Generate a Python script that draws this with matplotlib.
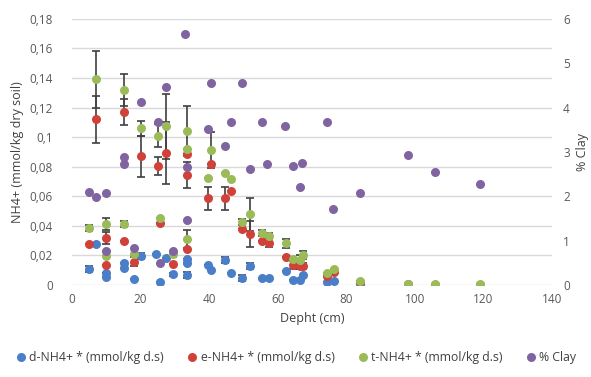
import matplotlib.pyplot as plt
from matplotlib.ticker import FuncFormatter, MultipleLocator
from matplotlib.lines import Line2D

plt.rcParams['font.family'] = ['Open Sans', 'DejaVu Sans']

# d-NH4+ (blue)
d_depth = [5, 7, 10, 10, 15, 15, 18, 20, 24.5, 25.5, 27.5, 29.5, 33.5, 33.5, 33.5, 39.5, 40.5,
           44.5, 46.5, 49.5, 52, 55.5, 57.5, 62.5, 64.5, 66.5, 67.5, 74.5, 76.5, 84, 98, 106, 119]
d_val = [0.0106, 0.0275, 0.0079, 0.0056, 0.015, 0.0117, 0.0038, 0.0196, 0.0207, 0.0022, 0.0185,
         0.0072, 0.0174, 0.0151, 0.0065, 0.0135, 0.0101, 0.0169, 0.0079, 0.0045, 0.0131, 0.0049,
         0.0045, 0.0095, 0.0034, 0.0034, 0.0068, 0.002, 0.0026, 0.0005, 0.0003, 0.0002, 0.0002]
d_err = [0.002, 0, 0, 0, 0, 0, 0, 0.002, 0, 0, 0, 0.001, 0, 0, 0.002, 0, 0,
         0.002, 0, 0.002, 0.002, 0, 0, 0, 0, 0, 0, 0, 0, 0, 0, 0, 0]

# e-NH4+ (red)
e_depth = [5, 7, 10, 10, 15, 15, 18, 20, 25, 25.5, 27.5, 29.5, 33.5, 33.5, 33.5, 39.5, 40.5,
           44.5, 46.5, 49.5, 52, 55.5, 57.5, 62.5, 64.5, 66.5, 67.5, 74.5, 76.5, 84, 98, 106, 119]
e_val = [0.0277, 0.112, 0.032, 0.0135, 0.117, 0.030, 0.0158, 0.087, 0.0806, 0.042, 0.089,
         0.014, 0.0885, 0.0743, 0.0245, 0.0586, 0.0815, 0.0586, 0.0637, 0.0378, 0.0345, 0.030,
         0.0286, 0.0187, 0.0135, 0.0128, 0.013, 0.006, 0.009, 0.002, 0.0005, 0.0003, 0.0003]
e_err = [0, 0.016, 0.004, 0, 0.009, 0, 0.003, 0.014, 0.006, 0, 0.021, 0, 0, 0.0086, 0, 0.008, 0,
         0.008, 0, 0, 0.009, 0, 0.003, 0, 0.003, 0.002, 0.002, 0, 0, 0, 0, 0, 0]

# t-NH4+ (green)
t_depth = [5, 7, 10, 10, 15, 15, 18, 20, 25, 25.5, 27.5, 29.5, 33.5, 33.5, 33.5, 39.5, 40.5,
           44.5, 46.5, 49.5, 52, 55.5, 57.5, 62.5, 64.5, 66.5, 67.5, 74.5, 76.5, 84, 98, 106, 119]
t_val = [0.0383, 0.139, 0.041, 0.0196, 0.132, 0.041, 0.021, 0.106, 0.101, 0.0455, 0.1074,
         0.021, 0.104, 0.0917, 0.031, 0.0725, 0.0912, 0.0755, 0.0716, 0.0424, 0.0478, 0.0354,
         0.0331, 0.0282, 0.0174, 0.017, 0.0203, 0.0079, 0.0108, 0.0027, 0.0007, 0.0005, 0.0005]
t_err = [0.002, 0.019, 0.004, 0, 0.011, 0.002, 0, 0.005, 0.008, 0, 0.022, 0.002, 0.017, 0, 0.006,
         0, 0.012, 0, 0, 0.002, 0.011, 0.002, 0.002, 0.003, 0, 0.003, 0.003, 0, 0, 0, 0, 0, 0]

# % Clay (purple, right axis)
clay_depth = [5, 7, 10, 10, 15, 15, 18, 20, 25, 25.5, 27.5, 29.5, 33, 33.5, 33.5, 39.5, 40.5,
              44.5, 46.5, 49.5, 52, 55.5, 57, 62, 64.5, 66.5, 67, 74.5, 76, 84, 98, 106, 119]
clay_val = [2.09, 1.98, 2.07, 0.77, 2.88, 2.72, 0.83, 4.12, 3.67, 0.49, 4.46, 0.77, 5.65, 2.67,
            1.47, 3.52, 4.55, 3.14, 3.67, 4.56, 2.62, 3.67, 2.72, 3.59, 2.68, 2.22, 2.76, 3.68,
            1.71, 2.07, 2.92, 2.54, 2.28]

labels = ['d-NH4+ * (mmol/kg d.s)', 'e-NH4+ * (mmol/kg d.s)', 't-NH4+ * (mmol/kg d.s)', '% Clay']
colors = ['#4a7ec8', '#d0413a', '#9bbb59', '#8064a2']
ecol = '#404040'
tcol = '#595959'

fig, ax = plt.subplots(figsize=(5.91, 3.77), dpi=100)
fig.subplots_adjust(left=0.122, right=0.934, top=0.95, bottom=0.244)

for x, y, err, c in [(d_depth, d_val, d_err, colors[0]),
                     (e_depth, e_val, e_err, colors[1]),
                     (t_depth, t_val, t_err, colors[2])]:
    ax.errorbar(x, y, yerr=err, fmt='o', ms=6.5, color=c, ecolor=ecol, elinewidth=1.2,
                capsize=3, capthick=1.2, mec='none')

ax2 = ax.twinx()
ax2.plot(clay_depth, clay_val, 'o', ms=6.5, color=colors[3], mec='none')

ax.set_xlim(0, 140)
ax.set_ylim(0, 0.18)
ax2.set_ylim(0, 6)
ax.xaxis.set_major_locator(MultipleLocator(20))
ax.yaxis.set_major_locator(MultipleLocator(0.02))
ax2.yaxis.set_major_locator(MultipleLocator(1))

fmt = FuncFormatter(lambda v, p: ('%g' % round(v, 3)).replace('.', ','))
ax.yaxis.set_major_formatter(fmt)

ax.grid(axis='y', color='#d9d9d9', lw=1)
ax.set_axisbelow(True)
for a in (ax, ax2):
    for s in a.spines.values():
        s.set_visible(False)
    a.tick_params(length=0, labelsize=8.5, colors=tcol, pad=6)
ax.tick_params(axis='y', pad=14)
ax2.tick_params(axis='y', pad=8)

ax.set_xlabel('Depht (cm)', fontsize=9, color='#404040')
ax.set_ylabel('NH4+ (mmol/kg dry soil)', fontsize=9, color='#404040')
ax2.set_ylabel('% Clay', fontsize=9, color='#404040', labelpad=4)

handles = [Line2D([], [], ls='none', marker='o', ms=6.5, color=c, mec='none') for c in colors]
fig.legend(handles, labels, loc='lower center', ncol=4, frameon=False, fontsize=8.8,
           handletextpad=0.2, columnspacing=1.8, handlelength=1, labelcolor='#404040',
           bbox_to_anchor=(0.5, 0.005))

plt.savefig('out.png')
